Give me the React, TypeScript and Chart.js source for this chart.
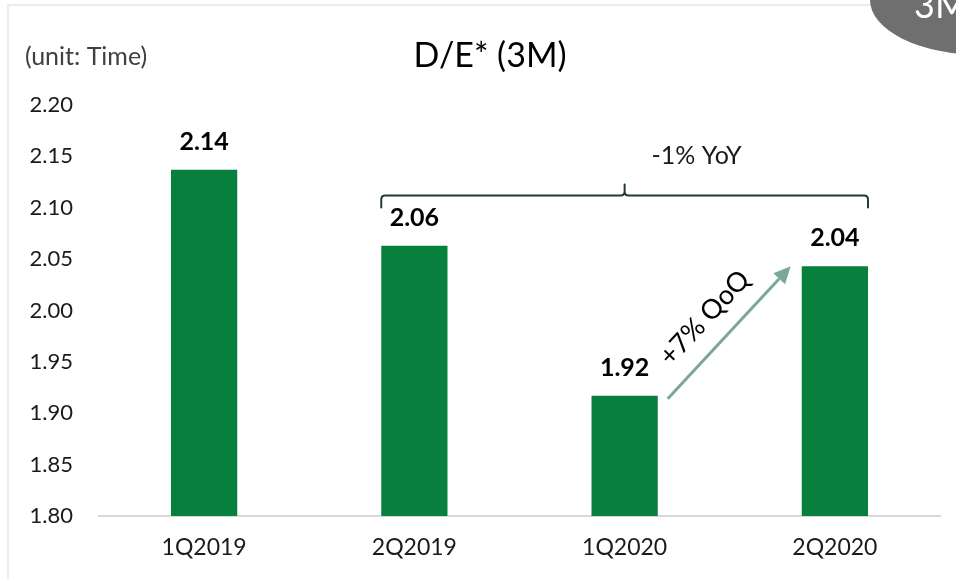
import React, { useEffect, useRef } from "react";
import { Chart, registerables } from "chart.js";

Chart.register(...registerables);

// ---- data ----
const categories = ["1Q2019", "2Q2019", "1Q2020", "2Q2020"];
const deRatio = [2.137, 2.063, 1.917, 2.043];
const valueLabels = ["2.14", "2.06", "1.92", "2.04"];
const yTicks = [1.8, 1.85, 1.9, 1.95, 2.0, 2.05, 2.1, 2.15, 2.2];
const chartTitle = "D/E* (3M)";
const unitLabel = "(unit: Time)";
const yoyLabel = "-1% YoY";
const qoqLabel = "+7% QoQ";
const badgeLabel = "3M";
const bracketLevel = 2.112; // value level of the YoY brace
const yoyFrom = 1; // brace spans category index 1..3
const yoyTo = 3;
const qoqFrom = 2; // arrow from category 2 to 3
const qoqTo = 3;

const FONT = "Lato, 'Liberation Sans', sans-serif";
const BAR_GREEN = "#06803c";

const decorPlugin = {
  id: "decor",
  beforeDraw(chart: any) {
    const ctx = chart.ctx as CanvasRenderingContext2D;
    const W = chart.width;
    const H = chart.height;
    ctx.save();
    ctx.fillStyle = "#ffffff";
    ctx.fillRect(0, 0, W, H);
    // slide frame
    ctx.strokeStyle = "#ececec";
    ctx.lineWidth = 2;
    ctx.beginPath();
    ctx.moveTo(8, H);
    ctx.lineTo(8, 5);
    ctx.lineTo(W, 5);
    ctx.stroke();
    // badge
    ctx.fillStyle = "#6f6f6f";
    ctx.beginPath();
    ctx.ellipse(982, 0, 112, 55, 0, 0, Math.PI * 2);
    ctx.fill();
    ctx.fillStyle = "#ffffff";
    ctx.font = `36px ${FONT}`;
    ctx.textAlign = "left";
    ctx.textBaseline = "alphabetic";
    ctx.fillText(badgeLabel, 914, 18);
    // title
    ctx.fillStyle = "#000000";
    ctx.font = `34px ${FONT}`;
    ctx.textAlign = "center";
    ctx.textBaseline = "middle";
    ctx.fillText(chartTitle, 490, 56);
    // unit
    ctx.fillStyle = "#404040";
    ctx.font = `25px ${FONT}`;
    ctx.textAlign = "left";
    ctx.fillText(unitLabel, 25, 57);
    ctx.restore();
  },
  afterDatasetsDraw(chart: any) {
    const ctx = chart.ctx as CanvasRenderingContext2D;
    const bars = chart.getDatasetMeta(0).data;
    const yScale = chart.scales.y;
    ctx.save();
    // value labels
    ctx.fillStyle = "#000000";
    ctx.font = `bold 25px ${FONT}`;
    ctx.textAlign = "center";
    ctx.textBaseline = "middle";
    bars.forEach((b: any, i: number) => {
      ctx.fillText(valueLabels[i], b.x, b.y - 28);
    });

    // YoY brace
    const bL = bars[yoyFrom];
    const bR = bars[yoyTo];
    const L = bL.x - bL.width / 2;
    const R = bR.x + bR.width / 2;
    const M = (L + R) / 2;
    const y = yScale.getPixelForValue(bracketLevel);
    const r = 4;
    ctx.strokeStyle = "#1f3d27";
    ctx.lineWidth = 2;
    ctx.lineCap = "round";
    ctx.beginPath();
    ctx.moveTo(L, y + 12);
    ctx.lineTo(L, y + r);
    ctx.quadraticCurveTo(L, y, L + r, y);
    ctx.lineTo(M - r, y);
    ctx.quadraticCurveTo(M, y, M, y - r);
    ctx.lineTo(M, y - 11);
    ctx.moveTo(M, y - r);
    ctx.quadraticCurveTo(M, y, M + r, y);
    ctx.lineTo(R - r, y);
    ctx.quadraticCurveTo(R, y, R, y + r);
    ctx.lineTo(R, y + 12);
    ctx.stroke();
    ctx.fillStyle = "#1a1a1a";
    ctx.font = `25px ${FONT}`;
    ctx.textAlign = "center";
    ctx.textBaseline = "middle";
    ctx.fillText(yoyLabel, M + 72, y - 39);

    // QoQ arrow
    const a = bars[qoqFrom];
    const c = bars[qoqTo];
    const x0 = a.x + a.width / 2 + 10;
    const y0 = a.y + 3;
    const x1 = c.x - c.width / 2 - 11;
    const y1 = c.y;
    const dx = x1 - x0;
    const dy = y1 - y0;
    const len = Math.hypot(dx, dy);
    const ux = dx / len;
    const uy = dy / len;
    const head = 17;
    const hw = 8;
    ctx.strokeStyle = "#7aa898";
    ctx.fillStyle = "#7aa898";
    ctx.lineWidth = 3;
    ctx.lineCap = "butt";
    ctx.beginPath();
    ctx.moveTo(x0, y0);
    ctx.lineTo(x1 - ux * head, y1 - uy * head);
    ctx.stroke();
    ctx.beginPath();
    ctx.moveTo(x1, y1);
    ctx.lineTo(x1 - ux * head - uy * hw, y1 - uy * head + ux * hw);
    ctx.lineTo(x1 - ux * head + uy * hw, y1 - uy * head - ux * hw);
    ctx.closePath();
    ctx.fill();
    // rotated label
    const mx = (x0 + x1) / 2;
    const my = (y0 + y1) / 2;
    const nx = uy;
    const ny = -ux;
    ctx.translate(mx + nx * 28 - ux * 6, my + ny * 28 - uy * 6);
    ctx.rotate(Math.atan2(dy, dx));
    ctx.fillStyle = "#000000";
    ctx.font = `27px ${FONT}`;
    ctx.textAlign = "center";
    ctx.textBaseline = "middle";
    ctx.fillText(qoqLabel, 0, 0);
    ctx.restore();
  },
};

export default function App() {
  const ref = useRef<HTMLCanvasElement | null>(null);

  useEffect(() => {
    if (!ref.current) return;
    const chart = new Chart(ref.current, {
      type: "bar",
      data: {
        labels: categories,
        datasets: [
          {
            data: deRatio,
            backgroundColor: BAR_GREEN,
            borderWidth: 0,
            barPercentage: 0.63,
            categoryPercentage: 0.5,
          },
        ],
      },
      options: {
        responsive: false,
        animation: false,
        layout: { padding: { top: 105, right: 16, left: 0, bottom: 0 } },
        plugins: {
          legend: { display: false },
          title: { display: false },
          tooltip: { enabled: false },
        },
        scales: {
          x: {
            grid: { display: false, drawTicks: false },
            border: { display: true, color: "#d9d9d9", width: 2 },
            ticks: {
              color: "#1a1a1a",
              font: { family: FONT, size: 23 },
              padding: 18,
              maxRotation: 0,
            },
            afterFit: (s: any) => {
              s.height = 63;
            },
          },
          y: {
            min: yTicks[0],
            max: yTicks[yTicks.length - 1],
            grid: { display: false, drawTicks: false },
            border: { display: false },
            ticks: {
              color: "#1a1a1a",
              font: { family: FONT, size: 22 },
              padding: 26,
              callback: (v: any) => Number(v).toFixed(2),
            },
            afterBuildTicks: (s: any) => {
              s.ticks = yTicks.map((v) => ({ value: v }));
            },
            afterFit: (s: any) => {
              s.width = 99;
            },
          },
        },
      },
      plugins: [decorPlugin],
    });
    return () => chart.destroy();
  }, []);

  return (
    <div
      style={{
        position: "fixed",
        left: 0,
        top: 0,
        width: 956,
        height: 579,
        background: "#ffffff",
      }}
    >
      <canvas ref={ref} width={956} height={579} style={{ display: "block" }} />
    </div>
  );
}
